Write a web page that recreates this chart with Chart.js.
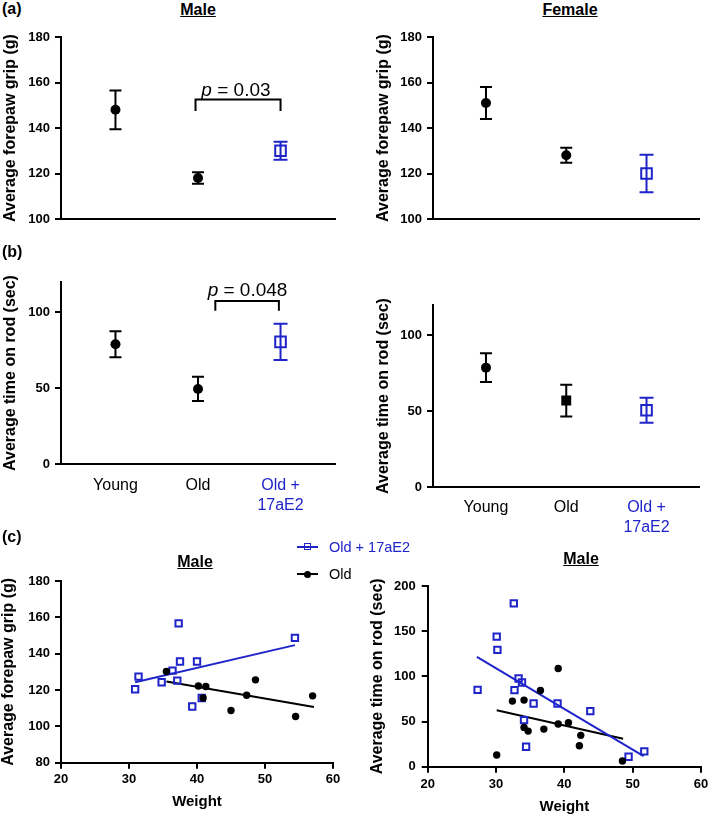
<!DOCTYPE html>
<html lang="en">
<head>
<meta charset="UTF-8">
<title>Forepaw grip and rotarod</title>
<script src="https://cdn.jsdelivr.net/npm/chart.js"></script>
<style>
  html, body { margin: 0; padding: 0; background: #fff; overflow: hidden; }
  #fig { position: relative; width: 709px; height: 816px; font-family: 'Liberation Sans', Arial, Helvetica, sans-serif; }
  canvas { position: absolute; }
  .lbl { position: absolute; line-height: 20px; color: #000; white-space: nowrap; z-index: 2; }
  .panel { font-size: 16px; font-weight: bold; }
  .ttl { font-size: 16px; font-weight: bold; text-decoration: underline; transform: translateX(-50%); }
  .leg { position: absolute; left: 297px; height: 18px; display: flex; align-items: center; font-size: 14.5px; z-index: 2; }
  .leg .mk { position: relative; width: 21px; height: 2px; background: currentColor; margin-right: 11px; }
  .leg .sq { position: absolute; left: 6.5px; top: -3px; width: 5px; height: 5px; border: 1.5px solid currentColor; background: transparent; }
  .leg .dot { position: absolute; left: 7px; top: -2.5px; width: 7px; height: 7px; border-radius: 50%; background: currentColor; }
</style>
</head>
<body>
<div id="fig">
  <canvas id="aL"></canvas>
  <canvas id="aR"></canvas>
  <canvas id="bL"></canvas>
  <canvas id="bR"></canvas>
  <canvas id="cL"></canvas>
  <canvas id="cR"></canvas>

  <div class="lbl panel" style="left:2px;top:-1px">(a)</div>
  <div class="lbl panel" style="left:2px;top:242px">(b)</div>
  <div class="lbl panel" style="left:2px;top:527px">(c)</div>
  <div class="lbl ttl" style="left:198px;top:0px">Male</div>
  <div class="lbl ttl" style="left:570px;top:0px">Female</div>
  <div class="lbl ttl" style="left:195px;top:552px">Male</div>
  <div class="lbl ttl" style="left:581px;top:549px">Male</div>

  <div class="leg" style="top:538px;color:#1f24c9"><span class="mk"><span class="sq"></span></span>Old + 17aE2</div>
  <div class="leg" style="top:565px;color:#000"><span class="mk"><span class="dot"></span></span>Old</div>
</div>

<script>
const FONT = "'Liberation Sans', Arial, Helvetica, sans-serif";
const BLUE = '#1f24c9';

// groups in (a) and (b)
const groupLabels = [['Young'], ['Old'], ['Old +', '17aE2']];
const groupX = [1, 2, 3];

// (a) average forepaw grip (g), mean and error
const gripMaleMean = [148, 118, 130];
const gripMaleSem = [8.5, 2.5, 4];
const gripFemaleMean = [151, 128, 120];
const gripFemaleSem = [7, 3.3, 8.2];

// (b) average time on rod (sec)
const rodMaleMean = [79, 49.5, 80.5];
const rodMaleSem = [8.6, 8, 12];
const rodFemaleMean = [78.7, 57, 50.6];
const rodFemaleSem = [9.5, 10.5, 8.2];

// (c) single mice against body weight
const gripWeightE2 = [30.9, 31.4, 34.8, 36.4, 37.1, 37.3, 37.5, 39.3, 40.0, 40.7, 54.4];
const gripE2 = [120.4, 127.4, 124.3, 130.7, 125.2, 156.7, 135.7, 110.9, 135.7, 115.6, 148.7];
const gripWeightOld = [35.5, 40.2, 41.3, 40.9, 45.0, 47.3, 48.6, 54.5, 57.0];
const gripOld = [130.2, 122.2, 121.9, 115.6, 108.7, 117.1, 125.6, 105.4, 116.8];
const gripFitE2X = [30.9, 54.4];
const gripFitE2Y = [124.3, 144.7];
const gripFitOldX = [35.5, 57.2];
const gripFitOldY = [124.7, 110.7];

const rodWeightE2 = [27.3, 30.1, 30.2, 32.6, 32.7, 33.3, 33.8, 34.1, 34.4, 35.5, 39.0, 43.8, 49.4, 51.7];
const rodE2 = [85.1, 144, 129.3, 180.8, 84.7, 97.6, 93.2, 51.6, 22.1, 70, 70, 61.5, 11, 16.9];
const rodWeightOld = [30.1, 32.4, 34.1, 34.1, 34.7, 36.5, 37.0, 39.1, 39.1, 40.6, 42.4, 42.2, 48.5];
const rodOld = [12.9, 72.6, 73.7, 43.5, 39.4, 84.4, 41.6, 108.7, 47.2, 48.6, 34.7, 23.2, 6.3];
const rodFitE2X = [27.2, 51.6];
const rodFitE2Y = [121.5, 11.8];
const rodFitOldX = [30.1, 48.6];
const rodFitOldY = [62.5, 31];

// significance brackets (data units)
const bracketGripMale = { x1: 1.97, x2: 3.0, y: 152.5, yEnd: 147.5, textX: 2.46, textY: 154.1, text: ' = 0.03' };
const bracketRodMale = { x1: 2.21, x2: 2.98, y: 107.5, yEnd: 101.1, textX: 2.6, textY: 110.8, text: ' = 0.048' };

const pts = (xs, ys) => xs.map((x, i) => ({ x, y: ys[i] }));

// vertical error bars with caps
const errorBars = {
  id: 'errorBars',
  beforeDatasetsDraw(chart) {
    const ctx = chart.ctx, y = chart.scales.y;
    chart.data.datasets.forEach((ds, i) => {
      if (!ds.sem) return;
      chart.getDatasetMeta(i).data.forEach((pt, j) => {
        const top = y.getPixelForValue(ds.data[j].y + ds.sem[j]);
        const bot = y.getPixelForValue(ds.data[j].y - ds.sem[j]);
        const half = ds.capWidth[j] / 2;
        ctx.save();
        ctx.strokeStyle = ds.barColor[j];
        ctx.lineWidth = 2;
        ctx.beginPath();
        ctx.moveTo(pt.x, top); ctx.lineTo(pt.x, bot);
        ctx.moveTo(pt.x - half, top); ctx.lineTo(pt.x + half, top);
        ctx.moveTo(pt.x - half, bot); ctx.lineTo(pt.x + half, bot);
        ctx.stroke();
        ctx.restore();
      });
    });
  }
};

// bracket with p value
const bracket = {
  id: 'bracket',
  afterDatasetsDraw(chart, args, o) {
    const { ctx, scales: { x, y } } = chart;
    const x1 = x.getPixelForValue(o.x1), x2 = x.getPixelForValue(o.x2);
    const yb = y.getPixelForValue(o.y), ye = y.getPixelForValue(o.yEnd);
    ctx.save();
    ctx.strokeStyle = '#000';
    ctx.lineWidth = 2;
    ctx.beginPath();
    ctx.moveTo(x1, ye); ctx.lineTo(x1, yb); ctx.lineTo(x2, yb); ctx.lineTo(x2, ye);
    ctx.stroke();
    const italic = 'italic 19px ' + FONT, plain = '19px ' + FONT;
    ctx.font = italic;
    const wp = ctx.measureText('p').width;
    ctx.font = plain;
    const wr = ctx.measureText(o.text).width;
    const tx = x.getPixelForValue(o.textX) - (wp + wr) / 2;
    const ty = y.getPixelForValue(o.textY);
    ctx.fillStyle = '#000';
    ctx.textAlign = 'left';
    ctx.textBaseline = 'alphabetic';
    ctx.font = italic;
    ctx.fillText('p', tx, ty);
    ctx.font = plain;
    ctx.fillText(o.text, tx + wp, ty);
    ctx.restore();
  }
};

Chart.register(errorBars, bracket);

function yAxis(min, max, step, fixedTicks, title, pad) {
  return {
    type: 'linear', min, max,
    afterBuildTicks: fixedTicks ? s => { s.ticks = fixedTicks.map(v => ({ value: v })); } : undefined,
    ticks: { stepSize: step, padding: pad, color: '#000', font: { family: FONT, size: 13, weight: 'bold' } },
    grid: { display: true, drawOnChartArea: false, drawTicks: true, tickLength: 6, color: '#000', lineWidth: 2 },
    border: { display: true, color: '#000', width: 2 },
    title: { display: true, text: title, color: '#000', padding: 0, font: { family: FONT, size: 16, weight: 'bold' } }
  };
}

function groupAxis(showLabels, pad) {
  return {
    type: 'linear', min: 0.34, max: 3.66,
    afterBuildTicks: s => { s.ticks = groupX.map(v => ({ value: v })); },
    ticks: {
      display: showLabels, autoSkip: false, maxRotation: 0, padding: pad,
      callback: (v, i) => groupLabels[i],
      color: c => c.index === 2 ? BLUE : '#000',
      font: { family: FONT, size: 16, lineHeight: 1.25 }
    },
    grid: { display: false, drawTicks: false },
    border: { display: true, color: '#000', width: 2 }
  };
}

function weightAxis(pad) {
  return {
    type: 'linear', min: 20, max: 60,
    ticks: { stepSize: 10, padding: pad, maxRotation: 0, color: '#000', font: { family: FONT, size: 13, weight: 'bold' } },
    grid: { display: true, drawOnChartArea: false, tickLength: 6, color: '#000', lineWidth: 2 },
    border: { display: true, color: '#000', width: 2 },
    title: { display: true, text: 'Weight', color: '#000', padding: 0, font: { family: FONT, size: 15, weight: 'bold' } }
  };
}

function groupDataset(means, sems, st) {
  return {
    data: groupX.map((x, i) => ({ x, y: means[i] })),
    sem: sems,
    capWidth: st.cap,
    barColor: st.stroke,
    pointStyle: st.shape,
    pointRadius: st.radius,
    pointBackgroundColor: st.fill,
    pointBorderColor: st.stroke,
    pointBorderWidth: st.width
  };
}

const styleDots = { shape: ['circle', 'circle', 'rect'], radius: [5, 5, 7.5], fill: ['#000', '#000', 'rgba(0,0,0,0)'], stroke: ['#000', '#000', BLUE], width: [0, 0, 2], cap: [12, 12, 14] };
const styleFemaleRod = { shape: ['circle', 'rect', 'rect'], radius: [5, 7, 7.5], fill: ['#000', '#000', 'rgba(0,0,0,0)'], stroke: ['#000', '#000', BLUE], width: [0, 0, 2], cap: [12, 12, 14] };

function weightDatasets(wE2, vE2, wOld, vOld, fx1, fy1, fx2, fy2) {
  return [
    { data: pts(wOld, vOld), pointStyle: 'circle', pointRadius: 3.7, pointBorderWidth: 0, pointBackgroundColor: '#000', order: 0 },
    { data: pts(wE2, vE2), pointStyle: 'rect', pointRadius: 4.5, pointBorderWidth: 2, pointBorderColor: BLUE, pointBackgroundColor: 'rgba(0,0,0,0)', order: 1 },
    { data: pts(fx1, fy1), showLine: true, pointRadius: 0, borderColor: BLUE, borderWidth: 2, order: 2 },
    { data: pts(fx2, fy2), showLine: true, pointRadius: 0, borderColor: '#000', borderWidth: 2, order: 3 }
  ];
}

// cv = canvas box on the page, area = wanted plot area on the page
function buildPanel(id, cv, area, cfg) {
  const el = document.getElementById(id);
  el.width = cv.w;
  el.height = cv.h;
  el.style.left = cv.x + 'px';
  el.style.top = cv.y + 'px';
  const padLeft = cfg.titleX - cv.x - 9.6;
  const padBottom = cfg.padBottom || 0;
  const yw = area.l - cv.x - padLeft;
  const xh = cv.y + cv.h - padBottom - area.b;
  cfg.x.afterFit = s => { s.height = xh; };
  cfg.y.afterFit = s => { s.width = yw; };
  return new Chart(el, {
    type: 'scatter',
    data: { datasets: cfg.datasets },
    options: {
      responsive: false,
      animation: false,
      devicePixelRatio: 1,
      layout: { padding: { left: padLeft, top: area.t - cv.y, right: cv.x + cv.w - area.r, bottom: padBottom } },
      plugins: { legend: { display: false }, tooltip: { enabled: false }, colors: { enabled: false }, bracket: cfg.bracket || false },
      scales: { x: cfg.x, y: cfg.y }
    }
  });
}

buildPanel('aL', { x: 0, y: 20, w: 350, h: 215 }, { l: 61, t: 37, r: 335, b: 219 }, {
  titleX: 11, padBottom: 4,
  x: groupAxis(false, 0),
  y: yAxis(100, 180, 20, null, 'Average forepaw grip (g)', 5),
  datasets: [groupDataset(gripMaleMean, gripMaleSem, styleDots)],
  bracket: bracketGripMale
});

buildPanel('aR', { x: 365, y: 20, w: 344, h: 215 }, { l: 433, t: 37, r: 707, b: 219 }, {
  titleX: 384, padBottom: 4,
  x: groupAxis(false, 0),
  y: yAxis(100, 180, 20, null, 'Average forepaw grip (g)', 5),
  datasets: [groupDataset(gripFemaleMean, gripFemaleSem, styleDots)]
});

buildPanel('bL', { x: 0, y: 262, w: 350, h: 254 }, { l: 61, t: 282, r: 335, b: 464 }, {
  titleX: 11,
  x: groupAxis(true, 12),
  y: yAxis(0, 120, 50, [0, 50, 100], 'Average time on rod (sec)', 5),
  datasets: [groupDataset(rodMaleMean, rodMaleSem, styleDots)],
  bracket: bracketRodMale
});

buildPanel('bR', { x: 365, y: 285, w: 344, h: 251 }, { l: 433, t: 305, r: 707, b: 487 }, {
  titleX: 384,
  x: groupAxis(true, 11),
  y: yAxis(0, 120, 50, [0, 50, 100], 'Average time on rod (sec)', 5),
  datasets: [groupDataset(rodFemaleMean, rodFemaleSem, styleFemaleRod)]
});

buildPanel('cL', { x: -3, y: 563, w: 353, h: 253 }, { l: 61, t: 581, r: 333, b: 762.7 }, {
  titleX: 9, padBottom: 5,
  x: weightAxis(3),
  y: yAxis(80, 180, 20, null, 'Average forepaw grip (g)', 5),
  datasets: weightDatasets(gripWeightE2, gripE2, gripWeightOld, gripOld, gripFitE2X, gripFitE2Y, gripFitOldX, gripFitOldY)
});

buildPanel('cR', { x: 365, y: 568, w: 350, h: 248 }, { l: 427.7, t: 586, r: 701, b: 766.7 }, {
  titleX: 378,
  x: weightAxis(4),
  y: yAxis(0, 200, 50, null, 'Average time on rod (sec)', 6),
  datasets: weightDatasets(rodWeightE2, rodE2, rodWeightOld, rodOld, rodFitE2X, rodFitE2Y, rodFitOldX, rodFitOldY)
});
</script>
</body>
</html>
